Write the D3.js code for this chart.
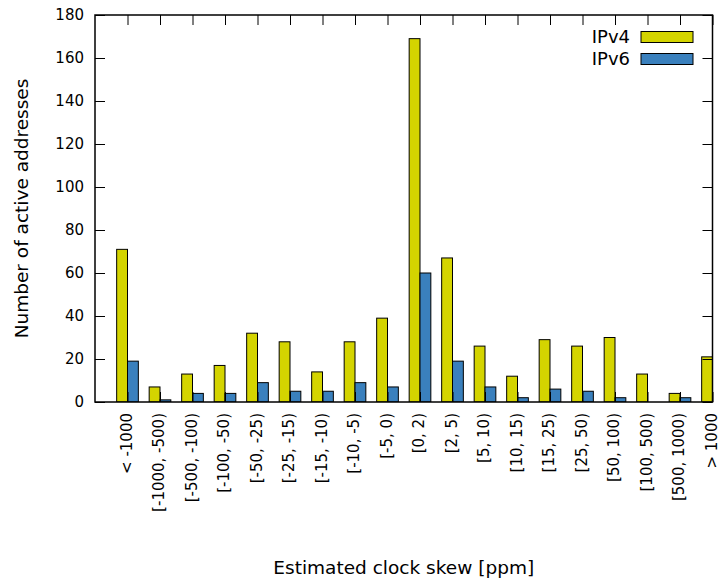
<!DOCTYPE html>
<html>
<head>
<meta charset="utf-8">
<script src="https://cdn.jsdelivr.net/npm/d3@7"></script>
<style>
  body { margin: 0; background: #fff; }
  svg { display: block; }
  text { font-family: "DejaVu Sans", sans-serif; fill: #000; }
</style>
</head>
<body>
<svg id="chart" width="720" height="581"></svg>
<script>
// Skew bins (ppm) and number of active addresses per bin
const categories = [
  "< -1000", "[-1000, -500)", "[-500, -100)", "[-100, -50)", "[-50, -25)",
  "[-25, -15)", "[-15, -10)", "[-10, -5)", "[-5, 0)", "[0, 2)", "[2, 5)",
  "[5, 10)", "[10, 15)", "[15, 25)", "[25, 50)", "[50, 100)", "[100, 500)",
  "[500, 1000)", "> 1000"
];
const ipv4 = [71, 7, 13, 17, 32, 28, 14, 28, 39, 169, 67, 26, 12, 29, 26, 30, 13, 4, 21];
const ipv6 = [19, 1, 4, 4, 9, 5, 5, 9, 7, 60, 19, 7, 2, 6, 5, 2, 0, 2, 0];
const yTicks = [0, 20, 40, 60, 80, 100, 120, 140, 160, 180];
const seriesNames = ["IPv4", "IPv6"];
const seriesColors = ["#d4d400", "#3a80bd"];

const svg = d3.select("#chart");
const plot = { left: 95, right: 712.5, top: 15, bottom: 402 };

// group index -> centre of the cluster; the range runs from -1 to 18
const x = d3.scaleLinear().domain([-1, 18]).range([plot.left, plot.right]);
const y = d3.scaleLinear().domain([0, 180]).range([plot.bottom, plot.top]);
const barW = 1 / 3;

svg.append("defs").append("clipPath").attr("id", "plotClip")
  .append("rect")
  .attr("x", plot.left).attr("y", plot.top)
  .attr("width", plot.right - plot.left).attr("height", plot.bottom - plot.top);

// bars
const series = [ipv4, ipv6];
const barsG = svg.append("g").attr("clip-path", "url(#plotClip)");
series.forEach((vals, s) => {
  barsG.selectAll(null)
    .data(vals.map((v, i) => ({ v, i })).filter(d => d.v > 0))
    .enter().append("rect")
    .attr("x", d => x(d.i - barW + s * barW))
    .attr("width", x(barW) - x(0))
    .attr("y", d => y(d.v))
    .attr("height", d => y(0) - y(d.v))
    .attr("fill", seriesColors[s])
    .attr("stroke", "#000")
    .attr("stroke-width", 1);
});

const tickLen = 10;
const idx = d3.range(categories.length);

// left axis with inward ticks
const yAxis = svg.append("g")
  .attr("transform", `translate(${plot.left},0)`)
  .call(d3.axisLeft(y).tickValues(yTicks).tickSizeInner(-tickLen).tickSizeOuter(0).tickPadding(11));
// right mirror ticks
const yAxisR = svg.append("g")
  .attr("transform", `translate(${plot.right},0)`)
  .call(d3.axisRight(y).tickValues(yTicks).tickSizeInner(-tickLen).tickSizeOuter(0).tickFormat(""));

// bottom axis with rotated category labels
const xAxis = svg.append("g")
  .attr("transform", `translate(0,${plot.bottom})`)
  .call(d3.axisBottom(x).tickValues(idx).tickSizeInner(-tickLen).tickSizeOuter(0)
    .tickFormat(i => categories[i]));
xAxis.selectAll(".tick text")
  .attr("transform", "rotate(-90)")
  .attr("text-anchor", "end")
  .attr("x", -11)
  .attr("y", 0)
  .attr("dy", "0.25em");
// top mirror ticks
const xAxisT = svg.append("g")
  .attr("transform", `translate(0,${plot.top})`)
  .call(d3.axisTop(x).tickValues(idx).tickSizeInner(-tickLen).tickSizeOuter(0).tickFormat(""));

[yAxis, yAxisR, xAxis, xAxisT].forEach(g => {
  g.select(".domain").remove();
  g.selectAll(".tick line").attr("stroke", "#000").attr("stroke-width", 1);
  g.selectAll(".tick text").attr("font-family", "DejaVu Sans").attr("font-size", 15).attr("fill", "#000");
});

// plot border
svg.append("rect")
  .attr("x", plot.left).attr("y", plot.top)
  .attr("width", plot.right - plot.left).attr("height", plot.bottom - plot.top)
  .attr("fill", "none").attr("stroke", "#000").attr("stroke-width", 1.5);

// axis titles
svg.append("text")
  .attr("transform", `translate(28,${(plot.top + plot.bottom) / 2}) rotate(-90)`)
  .attr("text-anchor", "middle")
  .attr("font-size", 18.5)
  .text("Number of active addresses");
svg.append("text")
  .attr("x", (plot.left + plot.right) / 2)
  .attr("y", 574)
  .attr("text-anchor", "middle")
  .attr("font-size", 18.5)
  .text("Estimated clock skew [ppm]");

// legend
const legend = svg.append("g");
seriesNames.forEach((name, s) => {
  const ly = 37 + s * 22;
  legend.append("text")
    .attr("x", 630).attr("y", ly + 6)
    .attr("text-anchor", "end")
    .attr("font-size", 18)
    .text(name);
  legend.append("rect")
    .attr("x", 641).attr("y", ly - 5.5)
    .attr("width", 52).attr("height", 11)
    .attr("fill", seriesColors[s])
    .attr("stroke", "#000").attr("stroke-width", 1);
});
</script>
</body>
</html>
